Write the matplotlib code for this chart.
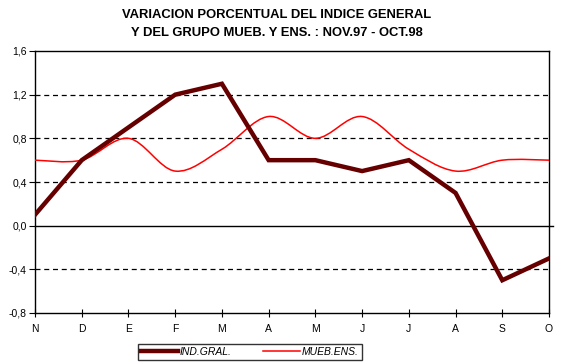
import matplotlib
matplotlib.use("Agg")
import matplotlib.pyplot as plt
from matplotlib.path import Path
from matplotlib.patches import PathPatch
from matplotlib.lines import Line2D

plt.rcParams['font.family'] = ['Liberation Sans', 'DejaVu Sans']

meses = ['N', 'D', 'E', 'F', 'M', 'A', 'M', 'J', 'J', 'A', 'S', 'O']
ind_gral = [0.1, 0.6, 0.9, 1.2, 1.3, 0.6, 0.6, 0.5, 0.6, 0.3, -0.5, -0.3]
mueb_ens = [0.6, 0.6, 0.8, 0.5, 0.7, 1.0, 0.8, 1.0, 0.7, 0.5, 0.6, 0.6]
yticks = [-0.8, -0.4, 0.0, 0.4, 0.8, 1.2, 1.6]

fig = plt.figure(figsize=(5.64, 3.64), dpi=100)
ax = fig.add_axes([35/564, 1 - 313/364, 514/564, 262/364])

x = list(range(len(meses)))

# linea suavizada (catmull-rom a bezier)
verts = [(x[0], mueb_ens[0])]
codes = [Path.MOVETO]
n = len(x)
for i in range(n - 1):
    p0 = (x[max(i - 1, 0)], mueb_ens[max(i - 1, 0)])
    p1 = (x[i], mueb_ens[i])
    p2 = (x[i + 1], mueb_ens[i + 1])
    p3 = (x[min(i + 2, n - 1)], mueb_ens[min(i + 2, n - 1)])
    c1 = (p1[0] + (p2[0] - p0[0]) / 6, p1[1] + (p2[1] - p0[1]) / 6)
    c2 = (p2[0] - (p3[0] - p1[0]) / 6, p2[1] - (p3[1] - p1[1]) / 6)
    verts += [c1, c2, p2]
    codes += [Path.CURVE4] * 3
ax.add_patch(PathPatch(Path(verts, codes), fill=False, edgecolor='#ff0000', lw=1.1, zorder=3))

ax.plot(x, ind_gral, color='#660000', lw=3.2, zorder=4, solid_joinstyle='miter')

for y in [-0.4, 0.4, 0.8, 1.2]:
    ax.axhline(y, color='black', lw=0.9, ls=(0, (4, 3)), zorder=1)
ax.plot([x[0], x[-1] + 0.08], [0, 0], color='black', lw=1, clip_on=False, zorder=2)

ax.set_xlim(x[0], x[-1])
ax.set_ylim(-0.8, 1.6)
ax.set_yticks(yticks)
ax.set_yticklabels([f"{v:.1f}".replace('.', ',') for v in yticks], fontsize=7.5)
ax.set_xticks(x)
ax.set_xticklabels(meses, fontsize=7.5)
ax.tick_params(axis='x', direction='inout', length=6, pad=5)
ax.tick_params(axis='y', direction='out', length=4, pad=2)
for s in ax.spines.values():
    s.set_linewidth(1)

fig.text(277/564, 1 - 15/364, 'VARIACION PORCENTUAL DEL INDICE GENERAL', ha='center', va='center',
         fontsize=9.4, fontweight='bold')
fig.text(277/564, 1 - 33/364, 'Y DEL GRUPO MUEB. Y ENS. : NOV.97 - OCT.98', ha='center', va='center',
         fontsize=9.4, fontweight='bold')

handles = [Line2D([], [], color='#660000', lw=3.2), Line2D([], [], color='#ff0000', lw=1.1)]
leg = fig.legend(handles, ['IND.GRAL.', 'MUEB.ENS.'], loc='center',
                 bbox_to_anchor=(250/564, 1 - 352/364), ncol=2, frameon=True, fancybox=False,
                 prop={'size': 7.5, 'style': 'italic'}, handlelength=3.5, columnspacing=3,
                 handletextpad=0.2, borderpad=0.3, borderaxespad=0)
leg.get_frame().set_edgecolor('black')
leg.get_frame().set_linewidth(1)

fig.savefig('out.png', dpi=100)
